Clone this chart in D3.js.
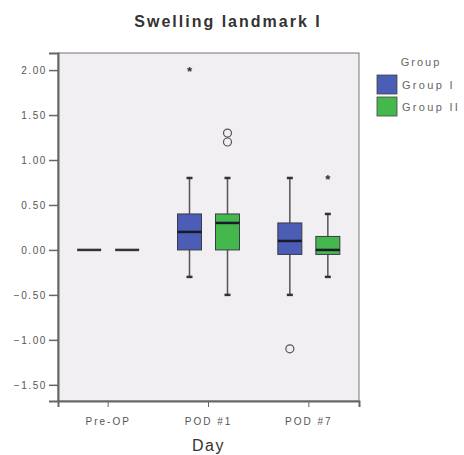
<!DOCTYPE html>
<html>
<head>
<meta charset="utf-8">
<script src="https://cdn.jsdelivr.net/npm/d3@7"></script>
<style>
  body { margin: 0; background: #fff; }
  text { font-family: "Liberation Sans", Arial, sans-serif; }
</style>
</head>
<body>
<div id="chart-area"></div>
<script>
// data
var days = ["Pre-OP", "POD #1", "POD #7"];
var groups = ["Group I", "Group II"];
var groupColors = ["#4b5db5", "#45b84d"];
var yTicks = [-1.5, -1.0, -0.5, 0, 0.5, 1.0, 1.5, 2.0];

// [lowWhisker, q1, median, q3, highWhisker] per day, one array per group
var group1Stats = [[0, 0, 0, 0, 0], [-0.30, 0.00, 0.20, 0.40, 0.80], [-0.50, -0.05, 0.10, 0.30, 0.80]];
var group2Stats = [[0, 0, 0, 0, 0], [-0.50, 0.00, 0.30, 0.40, 0.80], [-0.30, -0.05, 0.00, 0.15, 0.40]];

// outliers: circles (o) and extremes (*)
var group1Outliers = [[], [{v: 2.00, t: "*"}], [{v: -1.10, t: "o"}]];
var group2Outliers = [[], [{v: 1.30, t: "o"}, {v: 1.20, t: "o"}], [{v: 0.80, t: "*"}]];

var margin = {left: 58, right: 105, top: 53, bottom: 54};
var width = 464 - margin.left - margin.right,
    height = 455 - margin.top - margin.bottom;

var svg = d3.select("#chart-area")
  .append("svg")
    .attr("width", 464)
    .attr("height", 455);

var group = svg.append("g")
    .attr("transform", "translate(" + margin.left + "," + margin.top + ")");

var x = d3.scaleBand()
    .domain(days)
    .range([0, width]);

// two groups side by side, centres 38px apart
var xGroup = d3.scaleBand()
    .domain(groups)
    .range([x.bandwidth() / 2 - 38, x.bandwidth() / 2 + 38]);

var y = d3.scaleLinear()
    .domain([-1.68, 2.19])
    .range([height, 0]);

// plot background
group.append("rect")
    .attr("width", width)
    .attr("height", height)
    .attr("fill", "#f1eff1")
    .attr("stroke", "#777")
    .attr("stroke-width", 1);

// y axis
var yAxisCall = d3.axisLeft(y)
    .tickValues(yTicks)
    .tickSize(9)
    .tickFormat(d3.format(".2f"));
var yAxis = group.append("g").call(yAxisCall);
yAxis.select(".domain").attr("stroke", "#666").attr("stroke-width", 2);
yAxis.selectAll(".tick line").attr("stroke", "#666").attr("stroke-width", 1.5);
yAxis.selectAll("text")
    .attr("font-size", "10px")
    .attr("letter-spacing", "1.6px")
    .attr("fill", "#555")
    .attr("x", -11);

// x axis
var xAxisCall = d3.axisBottom(x).tickSize(6);
var xAxis = group.append("g")
    .attr("transform", "translate(0," + height + ")")
    .call(xAxisCall);
xAxis.select(".domain").attr("stroke", "#666").attr("stroke-width", 2);
xAxis.selectAll(".tick line").attr("stroke", "#666");
xAxis.selectAll("text")
    .attr("font-size", "10px")
    .attr("letter-spacing", "2px")
    .attr("fill", "#555")
    .attr("y", 17)
    .attr("dy", "0.71em");

// boxes
var boxWidth = 24;
var allStats = [group1Stats, group2Stats];
var allOutliers = [group1Outliers, group2Outliers];

groups.forEach(function(g, gi) {
  days.forEach(function(day, di) {
    var s = allStats[gi][di];
    var cx = x(day) + xGroup(g) + xGroup.bandwidth() / 2;
    var bg = group.append("g");

    if (s[4] === s[0]) {
      // all values equal: only a flat line
      bg.append("line")
        .attr("x1", cx - boxWidth / 2).attr("x2", cx + boxWidth / 2)
        .attr("y1", y(s[2])).attr("y2", y(s[2]))
        .attr("stroke", "#333").attr("stroke-width", 2.5);
      return;
    }

    // whiskers
    bg.append("line")
      .attr("x1", cx).attr("x2", cx)
      .attr("y1", y(s[4])).attr("y2", y(s[0]))
      .attr("stroke", "#555").attr("stroke-width", 1.5);
    [s[0], s[4]].forEach(function(v) {
      bg.append("line")
        .attr("x1", cx - 3).attr("x2", cx + 3)
        .attr("y1", y(v)).attr("y2", y(v))
        .attr("stroke", "#333").attr("stroke-width", 2.5);
    });

    bg.append("rect")
      .attr("x", cx - boxWidth / 2)
      .attr("y", y(s[3]))
      .attr("width", boxWidth)
      .attr("height", y(s[1]) - y(s[3]))
      .attr("fill", groupColors[gi])
      .attr("stroke", "#3a3a4a")
      .attr("stroke-width", 1);

    bg.append("line")
      .attr("x1", cx - boxWidth / 2).attr("x2", cx + boxWidth / 2)
      .attr("y1", y(s[2])).attr("y2", y(s[2]))
      .attr("stroke", "#1a1a2a").attr("stroke-width", 2.5);

    allOutliers[gi][di].forEach(function(o) {
      if (o.t === "o") {
        bg.append("circle")
          .attr("cx", cx).attr("cy", y(o.v)).attr("r", 4)
          .attr("fill", "none").attr("stroke", "#555").attr("stroke-width", 1.2);
      } else {
        bg.append("text")
          .attr("x", cx).attr("y", y(o.v) + 6)
          .attr("text-anchor", "middle")
          .attr("font-size", "13px")
          .attr("font-weight", "bold")
          .attr("fill", "#333")
          .text("*");
      }
    });
  });
});

// title
svg.append("text")
    .attr("x", 228)
    .attr("y", 27)
    .attr("font-size", "16px")
    .attr("font-weight", "bold")
    .attr("fill", "#333")
    .attr("text-anchor", "middle")
    .attr("letter-spacing", "2px")
    .text("Swelling landmark I");

// x label
svg.append("text")
    .attr("x", margin.left + width / 2)
    .attr("y", 451)
    .attr("font-size", "16px")
    .attr("letter-spacing", "1.5px")
    .attr("fill", "#333")
    .attr("text-anchor", "middle")
    .text("Day");

// legend
var legend = svg.append("g").attr("transform", "translate(377,0)");
legend.append("text")
    .attr("x", 44).attr("y", 66)
    .attr("text-anchor", "middle")
    .attr("font-size", "11px")
    .attr("letter-spacing", "2px")
    .attr("fill", "#666")
    .text("Group");
groups.forEach(function(g, i) {
  legend.append("rect")
    .attr("x", 0).attr("y", 75 + i * 22)
    .attr("width", 20).attr("height", 19)
    .attr("fill", groupColors[i])
    .attr("stroke", "#444").attr("stroke-width", 0.8);
  legend.append("text")
    .attr("x", 25).attr("y", 89 + i * 22)
    .attr("font-size", "11px")
    .attr("letter-spacing", "2.3px")
    .attr("fill", "#666")
    .text(g);
});
</script>
</body>
</html>
